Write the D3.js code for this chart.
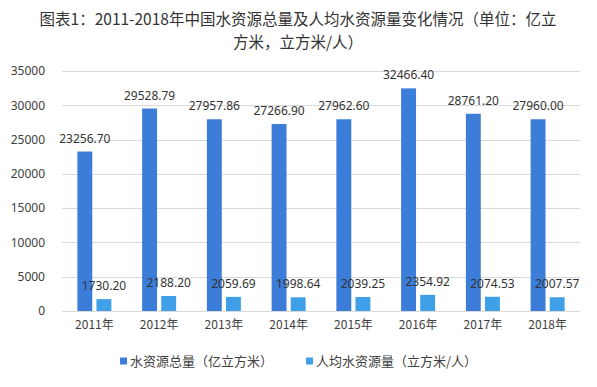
<!DOCTYPE html>
<html><head><meta charset="utf-8">
<script src="https://cdn.jsdelivr.net/npm/d3@7"></script>
<style>
html,body{margin:0;padding:0;background:#fff;}
svg{display:block;font-family:"Noto Sans CJK SC","Noto Sans",sans-serif;}
</style></head>
<body>
<script>
const categories = ["2011年","2012年","2013年","2014年","2015年","2016年","2017年","2018年"];
const totalWater = [23256.70, 29528.79, 27957.86, 27266.90, 27962.60, 32466.40, 28761.20, 27960.00];
const perCapita = [1730.20, 2188.20, 2059.69, 1998.64, 2039.25, 2354.92, 2074.53, 2007.57];
const seriesNames = ["水资源总量（亿立方米）", "人均水资源量（立方米/人）"];
const yTicks = [0, 5000, 10000, 15000, 20000, 25000, 30000, 35000];
const titleLines = ["图表1：2011-2018年中国水资源总量及人均水资源量变化情况（单位：亿立", "方米，立方米/人）"];
const colors = ["#3b7dd8", "#3fa0e8"];

const W = 597, H = 387;
const svg = d3.select("body").append("svg").attr("width", W).attr("height", H);

const x0 = d3.scaleBand().domain(categories).range([62, 580]).padding(0);
const x1 = d3.scaleBand().domain([0,1]).range([-17, 17]).paddingInner(0.22);
const y = d3.scaleLinear().domain([0, 35000]).range([311, 71]);

// title
svg.append("g").selectAll("text").data(titleLines).join("text")
  .attr("x", 298).attr("y", (d,i) => 25 + i*23)
  .attr("text-anchor", "middle").attr("font-size", 15.5).attr("fill", "#333")
  .text(d => d);

// grid
svg.append("g").selectAll("line").data(yTicks).join("line")
  .attr("x1", 62).attr("x2", 580)
  .attr("y1", d => Math.round(y(d)) + 0.5).attr("y2", d => Math.round(y(d)) + 0.5)
  .attr("stroke", "#d9d9d9").attr("stroke-width", 1);

// y axis
const yAxis = d3.axisLeft(y).tickValues(yTicks).tickSize(0).tickPadding(0).tickFormat(d3.format("d"));
const gy = svg.append("g").attr("transform", "translate(45,0)").call(yAxis);
gy.select(".domain").remove();
gy.selectAll("text").attr("font-size", 12).attr("fill", "#404040")
  .attr("font-family", "'Noto Sans','Noto Sans CJK SC',sans-serif");

// x axis
const xAxis = d3.axisBottom(x0).tickSize(0).tickPadding(0);
const gx = svg.append("g").attr("transform", "translate(0,320)").call(xAxis);
gx.select(".domain").remove();
gx.selectAll("text").attr("font-size", 12).attr("fill", "#404040")
  .attr("font-family", "'Noto Sans CJK SC','Noto Sans',sans-serif");

// bars
const groups = svg.append("g").selectAll("g").data(categories).join("g")
  .attr("transform", d => `translate(${x0(d) + x0.bandwidth()/2},0)`);

const fmt = d3.format(".2f");
[totalWater, perCapita].forEach((vals, s) => {
  groups.append("rect")
    .attr("x", x1(s)).attr("width", x1.bandwidth())
    .attr("y", (d,i) => y(vals[i])).attr("height", (d,i) => y(0) - y(vals[i]))
    .attr("fill", colors[s]);
  groups.append("text")
    .attr("x", x1(s) + x1.bandwidth()/2)
    .attr("y", (d,i) => y(vals[i]) - 9)
    .attr("text-anchor", "middle").attr("font-size", 12).attr("fill", "#333")
    .attr("font-family", "'Noto Sans',sans-serif")
    .text((d,i) => fmt(vals[i]));
});

// legend
const legendX = [120, 306];
const lg = svg.append("g").selectAll("g").data(seriesNames).join("g")
  .attr("transform", (d,i) => `translate(${legendX[i]},361)`);
lg.append("rect").attr("x", 0).attr("y", -3.5).attr("width", 7).attr("height", 7)
  .attr("fill", (d,i) => colors[i]);
lg.append("text").attr("x", 10).attr("y", 4.5).attr("font-size", 13).attr("fill", "#404040")
  .text(d => d);
</script>
</body></html>
